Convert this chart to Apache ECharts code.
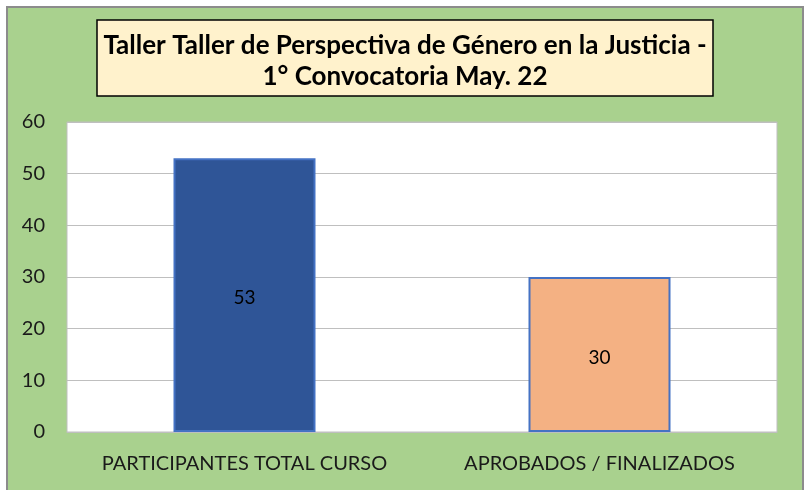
<!DOCTYPE html>
<html>
<head>
<meta charset="utf-8">
<script src="https://cdn.jsdelivr.net/npm/echarts@6/dist/echarts.min.js"></script>
<style>
  html, body { margin: 0; padding: 0; background: #fff; }
  #frame {
    position: absolute; left: 6px; top: 6px; width: 794px; height: 490px;
    background: #A9D18E; border: 2px solid #8c8c8c; border-bottom: none;
  }
  #chart { position: absolute; left: 0; top: 0; width: 804px; height: 490px; }
</style>
</head>
<body>
<div id="frame"></div>
<div id="chart"></div>
<script>
const categories = ['PARTICIPANTES TOTAL CURSO', 'APROBADOS / FINALIZADOS']
const values = [53, 30]
const barColors = ['#2F5597', '#F4B183']
const titleText = 'Taller Taller de Perspectiva de Género en la Justicia -\n1° Convocatoria May. 22'

const chart = echarts.init(document.getElementById('chart'), null, { renderer: 'canvas' })

const option = {
  backgroundColor: 'transparent',
  animation: false,
  // caja del título
  graphic: [
    {
      type: 'rect',
      shape: { x: 97, y: 20, width: 616, height: 76 },
      style: { fill: '#FFF2CC', stroke: '#000', lineWidth: 1.5 },
      z: 10
    },
    {
      type: 'text',
      x: 405,
      y: 61,
      z: 11,
      style: {
        text: titleText,
        align: 'center',
        verticalAlign: 'middle',
        font: 'bold 26px Lato',
        lineHeight: 31,
        fill: '#000'
      }
    }
  ],
  grid: {
    left: 67,
    right: 27,
    top: 122,
    bottom: 58,
    show: true,
    backgroundColor: '#fff',
    borderColor: '#BFBFBF',
    borderWidth: 1
  },
  xAxis: {
    type: 'category',
    data: categories,
    axisLine: { lineStyle: { color: '#BFBFBF' } },
    axisTick: { show: false },
    axisLabel: {
      interval: 0,
      margin: 22,
      fontFamily: 'Lato',
      fontSize: 20,
      color: '#1a1a1a'
    }
  },
  yAxis: {
    type: 'value',
    min: 0,
    max: 60,
    interval: 10,
    axisLine: { show: false },
    axisTick: { show: false },
    splitLine: { lineStyle: { color: '#BFBFBF', width: 1 } },
    axisLabel: {
      margin: 22,
      fontFamily: 'Lato',
      fontSize: 20,
      color: '#1a1a1a'
    }
  },
  series: [
    {
      type: 'bar',
      barWidth: '40%',
      data: values.map((v, i) => ({
        value: v,
        itemStyle: { color: barColors[i] }
      })),
      itemStyle: {
        borderColor: '#4472C4',
        borderWidth: 2
      },
      label: {
        show: true,
        position: 'inside',
        offset: [0, 3],
        fontFamily: 'Lato',
        fontSize: 19,
        color: '#000'
      }
    }
  ]
}

chart.setOption(option)
</script>
</body>
</html>
